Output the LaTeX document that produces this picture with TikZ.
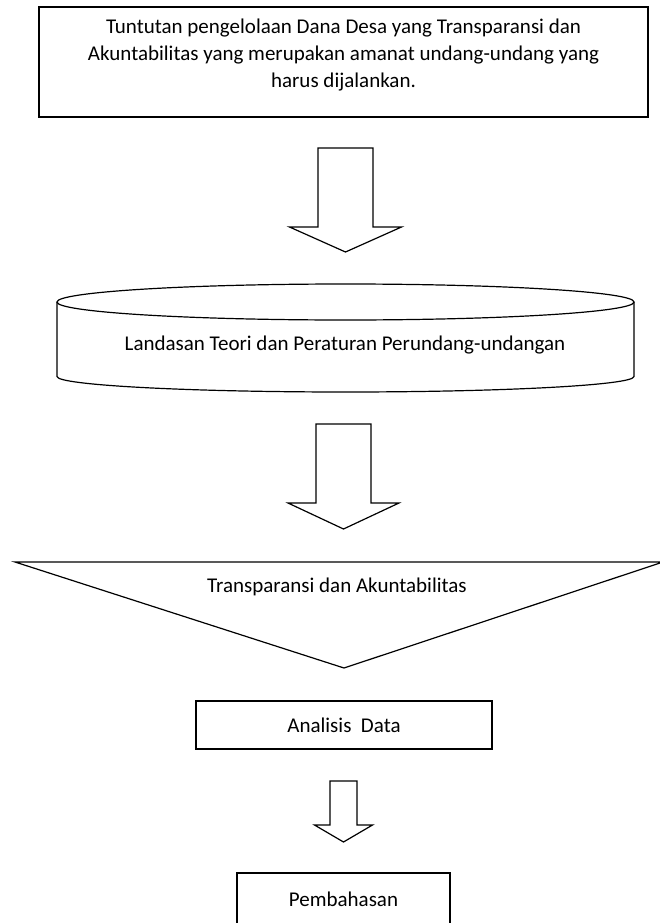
\documentclass[tikz,border=0pt]{standalone}
\usepackage{fontspec}
\setmainfont{Carlito}
\usetikzlibrary{positioning}
\tikzset{
	% Box and outline styles for the flow
	kotak/.style={rectangle,draw,line width=1.2pt,inner sep=0pt},
	garis/.style={draw,line width=1.2pt,line join=miter}
}

\begin{document}
\begin{tikzpicture}[x=1pt,y=-1pt,font=\fontsize{21}{27}\selectfont]
	% macro for block arrows: centre x, top, half shaft, half head, head y, tip y
	\newcommand{\panah}[6]{\draw[garis](#1-#3,#2)--(#1+#3,#2)--(#1+#3,#5)--(#1+#4,#5)--(#1,#6)--(#1-#4,#5)--(#1-#3,#5)--cycle;}
	\useasboundingbox (0,0) rectangle (660,923);
	
	\node(tuntutan)[kotak,minimum width=609,minimum height=110,line width=1.4pt]at(343.5,62){};
	\node(teks tuntutan)[align=center]at(343.5,55){Tuntutan pengelolaan Dana Desa yang Transparansi dan\\Akuntabilitas yang merupakan amanat undang-undang yang\\harus dijalankan.};
	
	\panah{345.5}{148}{27.5}{56}{227}{252}
	
	% cylinder
	\draw[garis](345.5,302) ellipse[x radius=288.5,y radius=18];
	\draw[garis](57,302)--(57,376.5) arc[start angle=180,end angle=0,x radius=288.5,y radius=15.5]--(634,302);
	\node(landasan)at(345,345){Landasan Teori dan Peraturan Perundang-undangan};
	
	\panah{343.5}{424}{27.5}{55.5}{503}{529}
	
	% triangle
	\draw[garis](15,562)--(663,562)--(344,668)--cycle;
	\node(transparansi)at(337,587){Transparansi dan Akuntabilitas};
	
	\node(analisis)[kotak,minimum width=296,minimum height=48]at(344,725){Analisis~ Data};
	
	\panah{343.5}{781}{13.5}{29}{825}{842}
	
	\node(pembahasan)[kotak,minimum width=213,minimum height=52]at(343.5,899){Pembahasan};
\end{tikzpicture}
\end{document}
